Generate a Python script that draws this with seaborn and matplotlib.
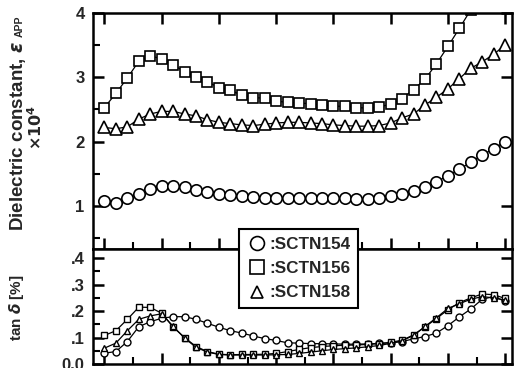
import matplotlib
matplotlib.use("Agg")
import matplotlib.pyplot as plt
import seaborn as sns
from matplotlib.lines import Line2D
from matplotlib.ticker import MultipleLocator, FixedLocator, FixedFormatter, NullFormatter

# ---------------- data ----------------
x_steps = [0.0, 0.2, 0.4, 0.6, 0.8, 1.0, 1.2, 1.4, 1.6, 1.8,
           2.0, 2.2, 2.4, 2.6, 2.8, 3.0, 3.2, 3.4, 3.6, 3.8,
           4.0, 4.2, 4.4, 4.6, 4.8, 5.0, 5.2, 5.4, 5.6, 5.8,
           6.0, 6.2, 6.4, 6.6, 6.8, 7.0]

eps_sctn154 = [1.08, 1.05, 1.12, 1.19, 1.26, 1.31, 1.31, 1.29, 1.25, 1.22,
               1.19, 1.17, 1.16, 1.14, 1.13, 1.13, 1.13, 1.13, 1.12, 1.12,
               1.12, 1.12, 1.10, 1.10, 1.12, 1.16, 1.19, 1.23, 1.30, 1.375,
               1.47, 1.57, 1.68, 1.79, 1.89, 2.00]
eps_sctn156 = [2.53, 2.75, 2.99, 3.25, 3.33, 3.29, 3.19, 3.09, 3.00, 2.93,
               2.84, 2.80, 2.72, 2.68, 2.68, 2.63, 2.61, 2.60, 2.59, 2.57,
               2.55, 2.55, 2.53, 2.52, 2.54, 2.58, 2.67, 2.81, 2.97, 3.21,
               3.48, 3.76, 4.05]
eps_sctn158 = [2.22, 2.20, 2.23, 2.35, 2.43, 2.47, 2.47, 2.43, 2.40, 2.34,
               2.30, 2.28, 2.26, 2.25, 2.27, 2.29, 2.30, 2.30, 2.29, 2.28,
               2.26, 2.25, 2.24, 2.24, 2.25, 2.29, 2.37, 2.43, 2.57, 2.69,
               2.82, 2.98, 3.14, 3.24, 3.36, 3.50]

tan_sctn154 = [0.041, 0.047, 0.085, 0.141, 0.160, 0.173, 0.179, 0.179, 0.169, 0.154,
               0.139, 0.126, 0.117, 0.106, 0.096, 0.089, 0.080, 0.079, 0.077, 0.077,
               0.076, 0.075, 0.075, 0.076, 0.078, 0.080, 0.085, 0.095, 0.104, 0.117,
               0.145, 0.178, 0.208, 0.245, 0.255, 0.237]
tan_sctn156 = [0.108, 0.126, 0.169, 0.215, 0.214, 0.192, 0.140, 0.100, 0.066, 0.047,
               0.037, 0.035, 0.036, 0.036, 0.037, 0.040, 0.047, 0.055, 0.062, 0.066,
               0.069, 0.071, 0.072, 0.074, 0.077, 0.082, 0.090, 0.110, 0.140, 0.172,
               0.205, 0.232, 0.250, 0.265, 0.262, 0.248]
tan_sctn158 = [0.060, 0.079, 0.126, 0.169, 0.182, 0.190, 0.142, 0.098, 0.063, 0.045,
               0.036, 0.034, 0.034, 0.034, 0.034, 0.035, 0.036, 0.040, 0.045, 0.050,
               0.055, 0.058, 0.061, 0.065, 0.070, 0.078, 0.088, 0.108, 0.142, 0.175,
               0.210, 0.228, 0.245, 0.255, 0.250, 0.242]

series_labels = [":SCTN154", ":SCTN156", ":SCTN158"]
series_markers = ["o", "s", "^"]
top_yticks = [1, 2, 3, 4]
bottom_yticks = [0.0, 0.1, 0.2, 0.3, 0.4]
bottom_yticklabels = ["0.0", ".1", ".2", ".3", ".4"]

# ---------------- style ----------------
sns.set_style("ticks")
plt.rcParams['font.family'] = ['Liberation Sans', 'DejaVu Sans']
plt.rcParams['font.weight'] = 'bold'

W, H = 514, 368
fig = plt.figure(figsize=(W / 100, H / 100), dpi=100)
L, R = 93, 512
ax1 = fig.add_axes([L / W, 1 - 249 / H, (R - L) / W, (249 - 13) / H])
ax2 = fig.add_axes([L / W, 1 - 364 / H, (R - L) / W, (364 - 249) / H])

top_series = [eps_sctn154, eps_sctn156, eps_sctn158]
bot_series = [tan_sctn154, tan_sctn156, tan_sctn158]
top_ms = [8.2, 7.6, 8.0]
bot_ms = [5.0, 4.8, 5.0]

for ys, mk, ms in zip(top_series, series_markers, top_ms):
    sns.lineplot(x=x_steps[:len(ys)], y=ys, ax=ax1, color='k', lw=0.9,
                 marker=mk, ms=ms, mfc='white', mec='k', mew=1.2)
for ys, mk, ms in zip(bot_series, series_markers, bot_ms):
    sns.lineplot(x=x_steps[:len(ys)], y=ys, ax=ax2, color='k', lw=0.9,
                 marker=mk, ms=ms, mfc='white', mec='k', mew=1.0)

for ax in (ax1, ax2):
    ax.set_xlim(-0.2, 7.12)
    ax.set_xlabel("")
    ax.set_ylabel("")
    for s in ax.spines.values():
        s.set_visible(True)
        s.set_linewidth(1.8)
        s.set_color('k')
    ax.xaxis.set_major_locator(MultipleLocator(1))
    ax.xaxis.set_minor_locator(MultipleLocator(0.5))
    ax.xaxis.set_major_formatter(NullFormatter())
    ax.tick_params(which='major', direction='in', length=8, width=1.8, color='k',
                   labelsize=12, pad=6)
    ax.tick_params(which='minor', direction='in', length=5, width=1.5, color='k')

# top panel
ax1.set_ylim(0.33, 4.0)
ax1.yaxis.set_major_locator(FixedLocator(top_yticks))
ax1.yaxis.set_minor_locator(MultipleLocator(0.5))
ax1.tick_params(axis='x', which='major', top=True, bottom=True, labelbottom=False)
ax1.tick_params(axis='x', which='minor', top=False, bottom=True)
ax1.tick_params(axis='y', which='major', left=True, right=True)
ax1.tick_params(axis='y', which='minor', left=True, right=False)

# bottom panel
ax2.set_ylim(0.0, 0.435)
ax2.yaxis.set_major_locator(FixedLocator(bottom_yticks))
ax2.yaxis.set_major_formatter(FixedFormatter(bottom_yticklabels))
ax2.yaxis.set_minor_locator(MultipleLocator(0.05))
ax2.tick_params(axis='x', which='both', top=False, bottom=True, labelbottom=False)
ax2.tick_params(axis='y', which='major', left=True, right=True)
ax2.tick_params(axis='y', which='minor', left=True, right=False)

for ax in (ax1, ax2):
    for lab in ax.get_yticklabels():
        lab.set_fontweight('bold')

# legend (markers only)
handles = [Line2D([], [], ls='none', marker=m, ms=s, mfc='white', mec='k', mew=1.2)
           for m, s in zip(series_markers, [10, 9.5, 8])]
leg = fig.legend(handles, series_labels, loc='upper left',
                 bbox_to_anchor=(239 / W, 1 - 229 / H), frameon=True,
                 fancybox=False, framealpha=1, edgecolor='k',
                 prop={'weight': 'bold', 'size': 12.3},
                 handlelength=1.2, handletextpad=0.1, labelspacing=0.55,
                 borderpad=0.45, borderaxespad=0)
leg.get_frame().set_linewidth(1.5)

# y labels
t1 = fig.text(23 / W, 1 - 231 / H, r"Dielectric constant, $\varepsilon$",
              rotation=90, rotation_mode='anchor', ha='left', va='baseline',
              fontsize=13.5, fontweight='bold')
fig.canvas.draw()
bb = t1.get_window_extent(renderer=fig.canvas.get_renderer())
fig.text(23 / W, (bb.y1 + 4) / H, "APP", rotation=90, rotation_mode='anchor',
         ha='left', va='baseline', fontsize=7.5, fontweight='bold')
fig.text(36 / W, 1 - 127 / H, r"$\mathbf{\times 10^4}$", rotation=90,
         ha='center', va='center', fontsize=11.5)
fig.text(17 / W, 1 - 308 / H, r"tan $\delta$ [%]", rotation=90,
         ha='center', va='center', fontsize=11, fontweight='bold')

fig.savefig("out.png", dpi=100)
